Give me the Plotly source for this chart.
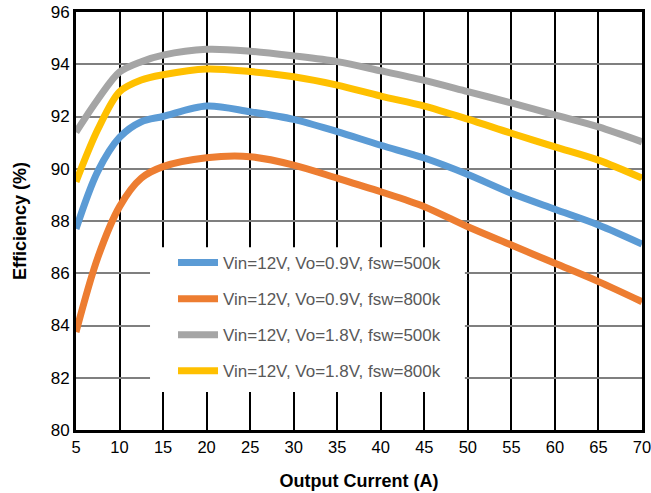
import plotly.graph_objects as go

current = [5, 7.5, 10, 12.5, 15, 20, 25, 30, 35, 40, 45, 50, 55, 60, 65, 70]
eff_09v_500k = [87.7, 89.9, 91.2, 91.8, 92.0, 92.4, 92.18, 91.89, 91.42, 90.9, 90.41, 89.78, 89.06, 88.45, 87.85, 87.12]
eff_09v_800k = [83.75, 86.6, 88.55, 89.64, 90.08, 90.42, 90.46, 90.14, 89.64, 89.12, 88.55, 87.78, 87.08, 86.38, 85.68, 84.91]
eff_18v_500k = [91.4, 92.65, 93.7, 94.1, 94.35, 94.57, 94.5, 94.32, 94.1, 93.75, 93.38, 92.95, 92.52, 92.06, 91.6, 91.03]
eff_18v_800k = [89.5, 91.5, 92.95, 93.4, 93.6, 93.82, 93.72, 93.52, 93.2, 92.78, 92.4, 91.9, 91.36, 90.84, 90.33, 89.64]

names = ["Vin=12V, Vo=0.9V, fsw=500k", "Vin=12V, Vo=0.9V, fsw=800k",
         "Vin=12V, Vo=1.8V, fsw=500k", "Vin=12V, Vo=1.8V, fsw=800k"]
series = [eff_09v_500k, eff_09v_800k, eff_18v_500k, eff_18v_800k]
colors = ["#5B9BD5", "#ED7D31", "#A5A5A5", "#FFC000"]

x_ticks = list(range(5, 71, 5))
y_ticks = list(range(80, 97, 2))

FONT = "Liberation Sans, Arial, sans-serif"

fig = go.Figure()
for i, (n, s, c) in enumerate(zip(names, series, colors)):
    fig.add_trace(go.Scatter(x=current, y=s, name=n, mode="lines",
                             line=dict(color=c, width=7, shape="spline", smoothing=0.9),
                             legendgroup=str(i)))

# white backing box of the legend (covers gridlines, below the traces)
fig.add_shape(type="rect", xref="x", yref="y", x0=13.5, x1=49.66, y0=81.45, y1=87.0,
              fillcolor="white", line=dict(width=0), layer="between")

fig.update_layout(
    width=651, height=493,
    margin=dict(l=76, r=9, t=12, b=63),
    paper_bgcolor="white", plot_bgcolor="white",
    font=dict(family=FONT, size=17, color="black"),
    showlegend=True,
    legend=dict(x=0.1714, y=0.4426, xanchor="left", yanchor="top",
                bgcolor="rgba(0,0,0,0)", borderwidth=0,
                font=dict(family=FONT, size=17, color="#595959"),
                tracegroupgap=11, itemwidth=40),
)
fig.update_xaxes(range=[5, 70], tickvals=x_ticks, ticktext=[str(v) for v in x_ticks],
                 showgrid=True, gridcolor="black", gridwidth=2,
                 showline=True, linecolor="black", linewidth=3, mirror=True,
                 zeroline=False, ticks="", automargin=False, ticklabeloverflow="allow",
                 tickfont=dict(size=16.5, color="black"),
                 title=dict(text="<b>Output Current (A)</b>", font=dict(size=18, color="black"), standoff=20))
fig.update_yaxes(range=[80, 96], tickvals=y_ticks, ticktext=[str(v) for v in y_ticks],
                 showgrid=True, gridcolor="#7F7F7F", gridwidth=2,
                 showline=True, linecolor="black", linewidth=3, mirror=True,
                 zeroline=False, ticks="", automargin=False, ticklabeloverflow="allow",
                 tickfont=dict(size=17, color="black"),
                 title=dict(text="<b>Efficiency (%)</b>", font=dict(size=18, color="black"), standoff=20))

fig.write_html("out.html")
